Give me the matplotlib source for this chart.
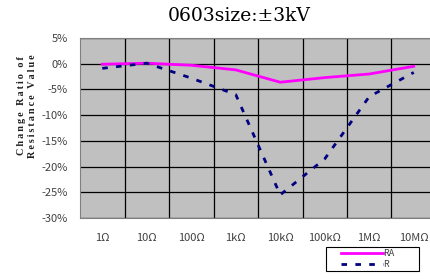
import matplotlib
matplotlib.use("Agg")
import matplotlib.pyplot as plt
from matplotlib.ticker import FuncFormatter
from matplotlib.patches import Rectangle

categories = ["1Ω", "10Ω", "100Ω", "1kΩ", "10kΩ", "100kΩ", "1MΩ", "10MΩ"]
ra_values = [-0.1, 0.1, -0.3, -1.2, -3.6, -2.7, -2.0, -0.5]
r_values = [-0.9, 0.1, -2.8, -6.0, -25.5, -18.5, -6.4, -1.7]
y_ticks = [5, 0, -5, -10, -15, -20, -25, -30]
title = "0603size:±3kV"
ylabel_lines = ["Change Ratio of", "Resistance Value"]

W, H = 430, 280
fig = plt.figure(figsize=(W / 100, H / 100), dpi=100)
fig.patch.set_facecolor("white")
ax = fig.add_axes([80 / W, 1 - 218 / H, 356 / W, 180 / H])
ax.set_facecolor("#C0C0C0")

x = list(range(len(categories)))
ax.plot(x, ra_values, color="#FF00FF", lw=2.0, label="RA", zorder=3)
ax.plot(x, r_values, color="#000080", lw=2.0, ls=(0, (2, 3)), label="R", zorder=3)

ax.set_xlim(-0.5, len(categories) - 0.5)
ax.set_ylim(-30, 5)
ax.set_yticks(y_ticks)
ax.yaxis.set_major_formatter(FuncFormatter(lambda v, p: f"{int(v)}%"))
ax.set_xticks(x)
ax.set_xticklabels(categories)
for b in [i + 0.5 for i in range(len(categories) - 1)]:
    ax.axvline(b, color="black", lw=0.9, zorder=1)
for t in y_ticks:
    ax.axhline(t, color="black", lw=0.9, zorder=1)
for s in ax.spines.values():
    s.set_color("#808080")
    s.set_linewidth(0.8)
ax.tick_params(axis="both", length=0, labelsize=8, colors="#404040")
for lab in ax.get_xticklabels() + ax.get_yticklabels():
    lab.set_family(["Noto Sans CJK SC", "DejaVu Sans"])
ax.tick_params(axis="y", pad=9)
ax.tick_params(axis="x", pad=11)

fig.text(239 / W, 1 - 16 / H, title, ha="center", va="center",
         fontsize=13.5, family="DejaVu Serif", color="black")

thin = "\u2009"
ylabel = "\n".join(thin.join(line) for line in ylabel_lines)
fig.text(27 / W, 1 - 106 / H, ylabel, ha="center", va="center", rotation=90,
         fontsize=7.3, fontweight="bold", family="Liberation Serif",
         linespacing=1.3, color="#202020")

# legend box
fig.add_artist(Rectangle((326 / W, 1 - 271 / H), 93 / W, 24 / H,
                         transform=fig.transFigure, facecolor="white",
                         edgecolor="black", lw=0.8))
leg = fig.legend(loc="center left", bbox_to_anchor=(341 / W, 1 - 259 / H),
                 frameon=False, fontsize=6.5, handlelength=4.6, handletextpad=0.1,
                 borderpad=0, labelspacing=0.15, borderaxespad=0)
for t in leg.get_texts():
    t.set_color("#404040")
    t.set_family(["Noto Sans CJK SC", "DejaVu Sans"])

fig.savefig("out.png", dpi=100)
